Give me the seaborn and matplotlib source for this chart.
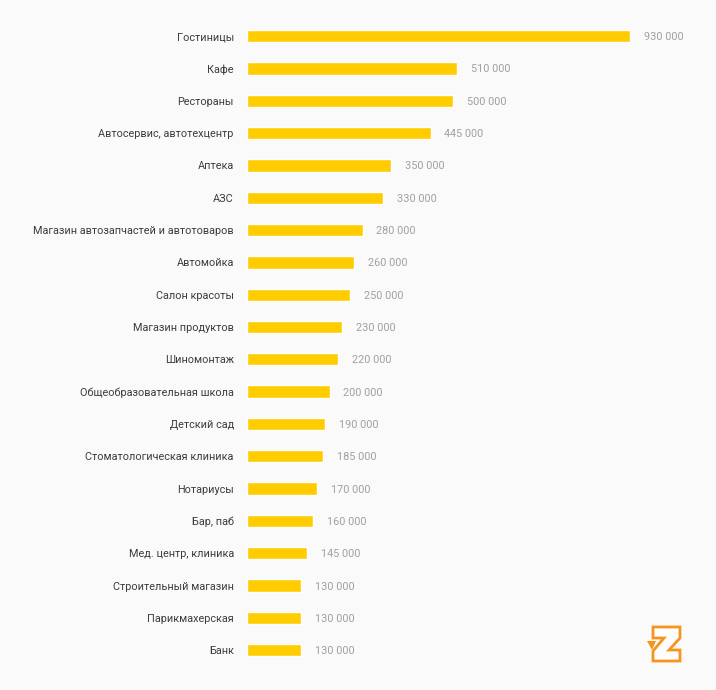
import matplotlib
matplotlib.use('Agg')
import matplotlib.pyplot as plt
from matplotlib.patches import Polygon
from matplotlib.transforms import Affine2D
import pandas as pd
import seaborn as sns

# Categories and values
categories = ['Гостиницы', 'Кафе', 'Рестораны', 'Автосервис, автотехцентр', 'Аптека', 'АЗС',
              'Магазин автозапчастей и автотоваров', 'Автомойка', 'Салон красоты', 'Магазин продуктов',
              'Шиномонтаж', 'Общеобразовательная школа', 'Детский сад', 'Стоматологическая клиника',
              'Нотариусы', 'Бар, паб', 'Мед. центр, клиника', 'Строительный магазин', 'Парикмахерская', 'Банк']
values = [930000, 510000, 500000, 445000, 350000, 330000, 280000, 260000, 250000, 230000,
          220000, 200000, 190000, 185000, 170000, 160000, 145000, 130000, 130000, 130000]

W, H = 716, 690
BG = '#fafafa'
YELLOW = '#ffcc00'
ORANGE = '#f7941d'

sns.set_theme(style='white')
plt.rcParams['font.family'] = ['Roboto', 'DejaVu Sans']

df = pd.DataFrame({'category': categories, 'value': values})

fig = plt.figure(figsize=(W / 100, H / 100), dpi=100, facecolor=BG)
ax = fig.add_axes([247.2 / W, 1 - 666.3 / H, (630.3 - 247.2) / W, (666.3 - 20) / H], facecolor=BG)

sns.barplot(data=df, x='value', y='category', color=YELLOW, saturation=1, width=0.38, ax=ax)

ax.set_xlim(0, 930000)
ax.set_xlabel('')
ax.set_ylabel('')
ax.xaxis.set_visible(False)
ax.tick_params(axis='y', length=0, pad=9.6, labelsize=7.85, labelcolor='#3c3c3c')
sns.despine(ax=ax, left=True, bottom=True)

# Value labels with a space as thousands separator
for container in ax.containers:
    value_labels = ax.bar_label(container, labels=[f'{v:,}'.replace(',', ' ') for v in values],
                                padding=10, fontsize=7.85, color='#a0a0a0')
    for label in value_labels:
        label.set_va('center_baseline')

# Logo in pixel coordinates
to_px = Affine2D().scale(1 / W, -1 / H).translate(0, 1) + fig.transFigure
logo_z = [(653, 627), (680, 627), (680, 638), (669, 650), (680, 650), (680, 661),
          (653, 661), (653, 651), (664, 638), (653, 638)]
logo_tick = [(647, 641), (656, 641), (652, 650)]
fig.add_artist(Polygon(logo_z, closed=True, facecolor='white', edgecolor=ORANGE, linewidth=2, transform=to_px))
fig.add_artist(Polygon(logo_tick, closed=True, facecolor=ORANGE, edgecolor='none', transform=to_px))

fig.savefig('out.png', dpi=100, facecolor=BG)
